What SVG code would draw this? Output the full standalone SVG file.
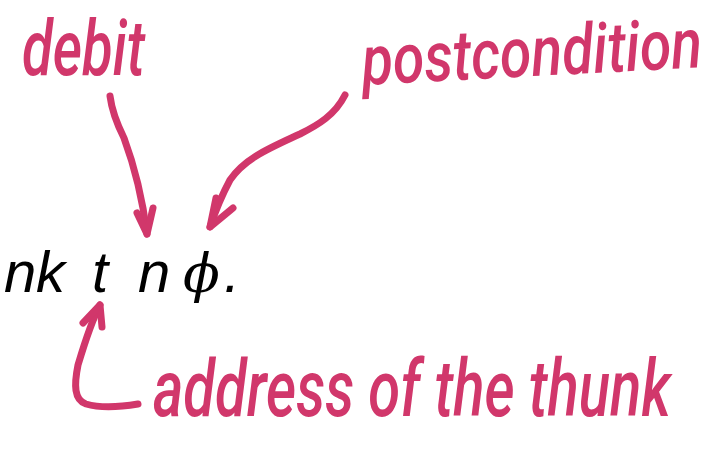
<svg xmlns="http://www.w3.org/2000/svg" width="715" height="458" viewBox="0 0 715 458">
<style>
.hand{font-family:Roboto,"DejaVu Sans",sans-serif;font-style:italic;font-weight:500;fill:#d1376b}
.math{font-family:"Liberation Sans","DejaVu Sans",sans-serif;font-style:italic;font-size:58px;fill:#000}
.phi{font-family:"DejaVu Serif","Liberation Serif",serif;font-style:italic;font-size:54px;fill:#000}
.arr{fill:none;stroke:#d1376b;stroke-width:7;stroke-linecap:round;stroke-linejoin:round}
</style>
<rect width="715" height="458" fill="#fff"/>
<g id="formula">
<text class="math" y="292"><tspan x="4">n</tspan><tspan x="36">k</tspan><tspan x="92">t</tspan><tspan x="138">n</tspan></text>
<text class="phi" x="183" y="292">ϕ</text>
<text class="math" x="224" y="292">.</text>
</g>
<g id="debit"><text class="hand" x="22" y="75" font-size="78" textLength="123" lengthAdjust="spacingAndGlyphs">debit</text></g>
<g id="postcondition"><text class="hand" x="0" y="0" font-size="70" transform="translate(363 85) rotate(-3) scale(0.815 1)">postcondition</text></g>
<g id="address"><text class="hand" x="0" y="0" font-size="80" transform="translate(153 416) scale(0.725 1)">address of the thunk</text></g>
<g id="connectors">
<path class="arr" d="M110,96 C112,112 118,126 124,138 C134,165 142,195 147,234"/>
<path class="arr" d="M137,213 L147,234 L153,208"/>
<path class="arr" d="M345,95 C335,115 318,125 300,134 C270,148 245,158 230,180 C222,195 215,212 210,227"/>
<path class="arr" d="M216,198 L210,227 L233,208"/>
<path class="arr" d="M100,305 C92,320 84,345 78,365 C74,385 74,400 86,404 C100,408 120,407 138,404"/>
<path class="arr" d="M83,323 L100,305 L102,327"/>
</g>
</svg>
